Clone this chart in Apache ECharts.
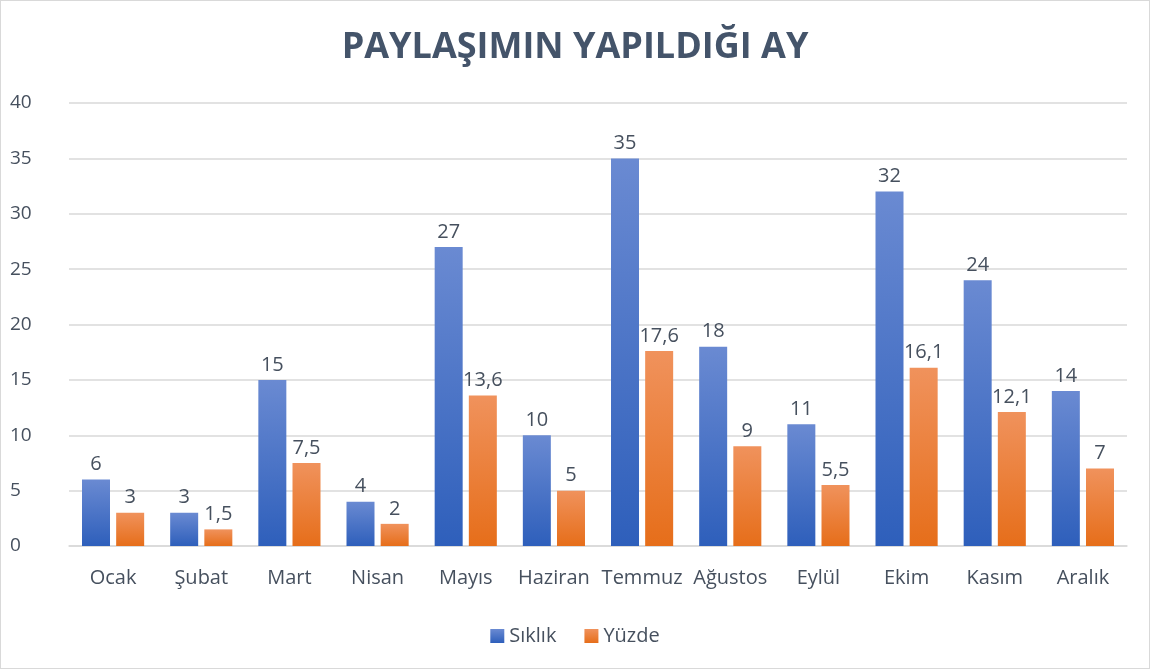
<!DOCTYPE html>
<html>
<head>
<meta charset="utf-8">
<script src="https://cdn.jsdelivr.net/npm/echarts@6/dist/echarts.min.js"></script>
<style>
  html, body { margin: 0; padding: 0; background: #fff; }
  #chart {
    width: 1148px;
    height: 667px;
    border: 1px solid #d9d9d9;
  }
</style>
</head>
<body>
<div id="chart"></div>
<script>
// ay kategorileri
var months = ['Ocak', 'Şubat', 'Mart', 'Nisan', 'Mayıs', 'Haziran', 'Temmuz', 'Ağustos', 'Eylül', 'Ekim', 'Kasım', 'Aralık']
var siklik = [6, 3, 15, 4, 27, 10, 35, 18, 11, 32, 24, 14]
var yuzde = [3, 1.5, 7.5, 2, 13.6, 5, 17.6, 9, 5.5, 16.1, 12.1, 7]
var yTicks = [0, 40, 5]

var font = "'Open Sans', 'Noto Sans', sans-serif"
var textColor = '#46505e'

function grad(top, bottom) {
  return new echarts.graphic.LinearGradient(0, 0, 0, 1, [
    { offset: 0, color: top },
    { offset: 1, color: bottom }
  ])
}

function label() {
  return {
    show: true,
    position: 'top',
    distance: 5,
    color: textColor,
    fontSize: 20,
    fontFamily: font,
    formatter: function (p) { return String(p.value).replace('.', ',') }
  }
}

var chart = echarts.init(document.getElementById('chart'))
chart.setOption({
  animation: false,
  title: {
    text: 'PAYLAŞIMIN YAPILDIĞI AY',
    left: 'center',
    top: 24,
    textStyle: {
      color: '#44546A',
      fontSize: 36,
      fontWeight: 'bold',
      fontFamily: font
    }
  },
  legend: {
    top: 620,
    left: 'center',
    itemWidth: 14,
    itemHeight: 14,
    itemGap: 28,
    icon: 'rect',
    textStyle: { color: textColor, fontSize: 20, fontFamily: font },
    data: ['Sıklık', 'Yüzde']
  },
  grid: {
    left: 68,
    right: 22,
    top: 102,
    bottom: 122,
    containLabel: false,
    outerBoundsMode: 'none'
  },
  xAxis: {
    type: 'category',
    data: months,
    axisLine: { lineStyle: { color: '#d9d9d9', width: 1.5 } },
    axisTick: { show: false },
    axisLabel: { color: textColor, fontSize: 20, fontFamily: font, margin: 22, interval: 0 }
  },
  yAxis: {
    type: 'value',
    min: yTicks[0],
    max: yTicks[1],
    interval: yTicks[2],
    axisLine: { show: false },
    axisTick: { show: false },
    splitLine: { lineStyle: { color: '#d9d9d9', width: 1.5 } },
    axisLabel: { color: textColor, fontSize: 19, fontFamily: font, margin: 59, align: 'left' }
  },
  series: [
    {
      name: 'Sıklık',
      type: 'bar',
      barWidth: 28,
      barGap: '22%',
      itemStyle: { color: grad('#6a8ad2', '#2e5fbb') },
      label: label(),
      data: siklik
    },
    {
      name: 'Yüzde',
      type: 'bar',
      barWidth: 28,
      itemStyle: { color: grad('#f0925c', '#e66e1a') },
      label: label(),
      data: yuzde
    }
  ]
})
</script>
</body>
</html>
